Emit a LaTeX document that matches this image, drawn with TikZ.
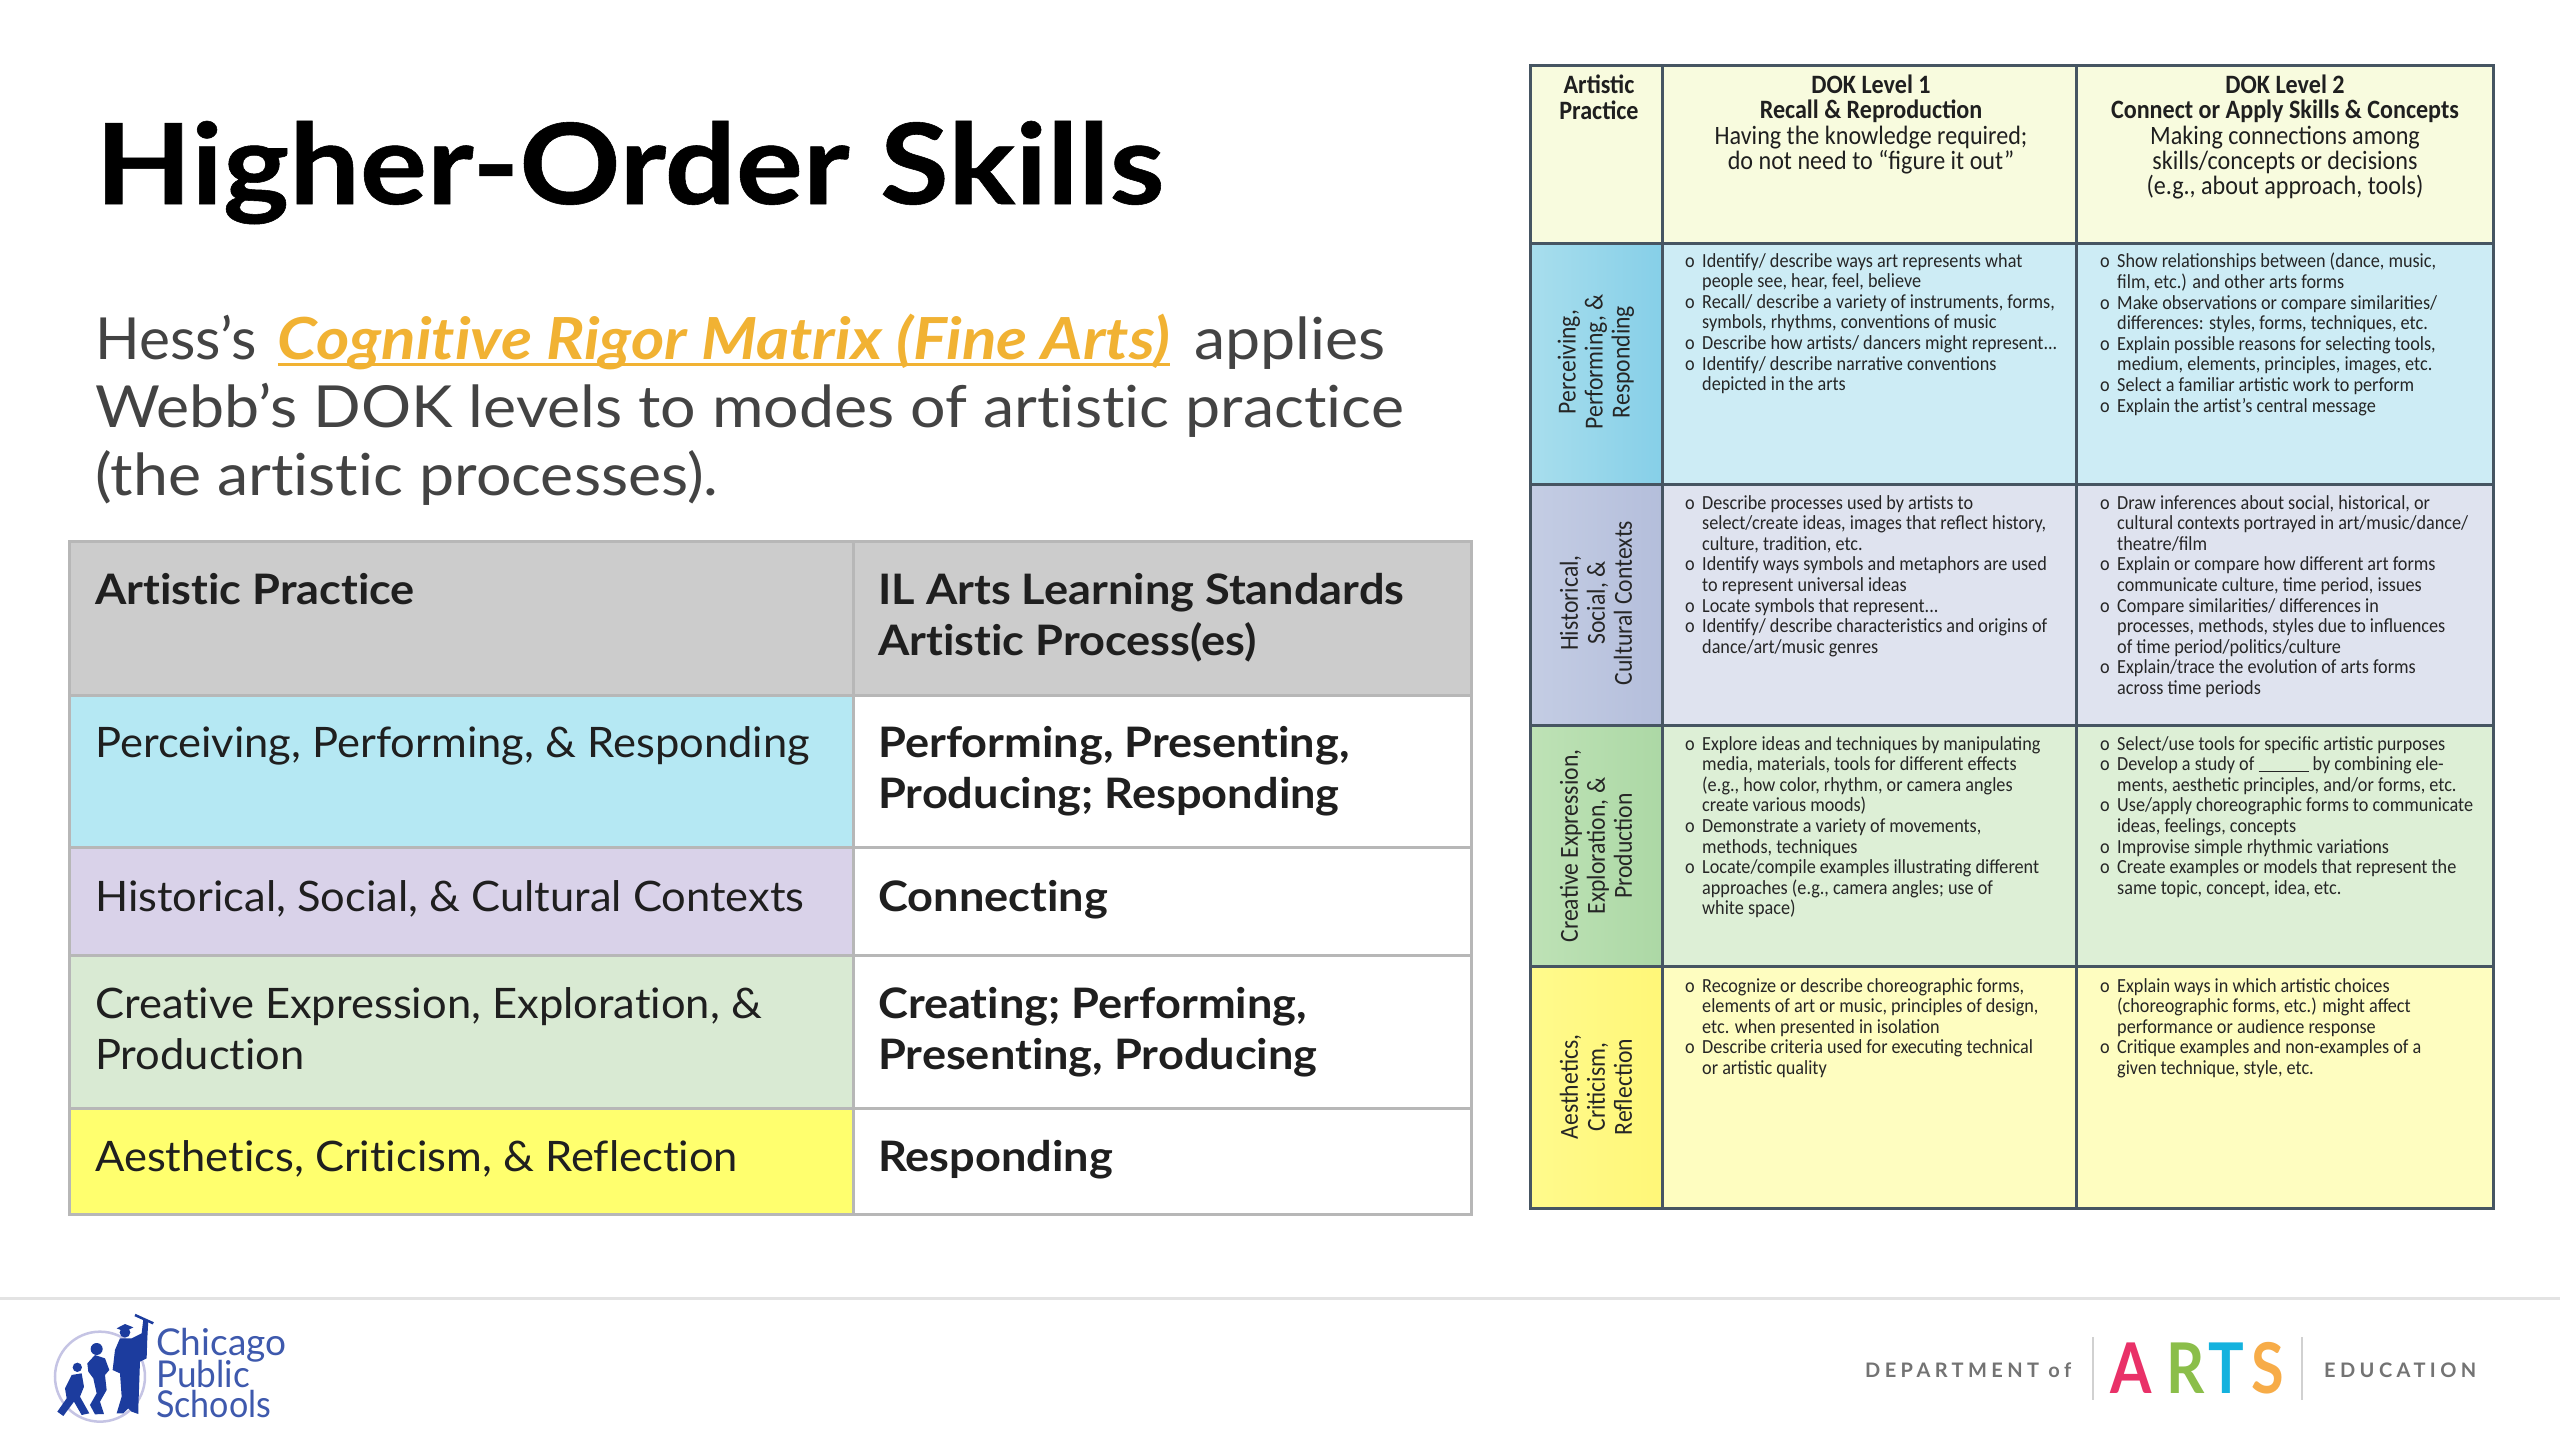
\documentclass[tikz,border=0pt]{standalone}
\usepackage{fontspec}
\setmainfont[Ligatures=NoCommon]{Lato}
\newfontfamily\titlef[Ligatures=NoCommon,FakeStretch=1.12,FakeBold=0.5]{Lato}
\newfontfamily\introf[Ligatures=NoCommon,FakeStretch=1.08]{Lato}
\newfontfamily\hessf[Ligatures=NoCommon,FakeStretch=1.01]{Lato}
\newfontfamily\linkf[Ligatures=NoCommon,FakeStretch=1.10]{Lato}
\newfontfamily\regf[Ligatures=NoCommon,FakeStretch=1.035]{Lato}
\newfontfamily\bldf[Ligatures=NoCommon,FakeStretch=1.075]{Lato}
\newfontfamily\cond[FakeStretch=0.91]{Carlito}
\newfontfamily\deptf[LetterSpace=22]{Lato}
\newfontfamily\artsf[FakeStretch=0.85]{Lato}
\definecolor{txt}{HTML}{1F1F1F}
\definecolor{body}{HTML}{434343}
\definecolor{linkc}{HTML}{F1B233}
\definecolor{gridl}{HTML}{B7B7B7}
\definecolor{gridr}{HTML}{465562}
\definecolor{cpsb}{HTML}{1C3C9E}
\definecolor{cpsl}{HTML}{C5C4E4}
\newcommand\lnk[1]{\setbox0\hbox{#1}\rlap{\copy0}\rule[-7pt]{\wd0}{3.5pt}}
\newcommand\bul{\makebox[17pt][l]{o}}
\newcommand\hng{\hspace*{17pt}}
\tikzset{
  cellL/.style={draw=gridl,line width=3pt,anchor=north west,inner sep=0pt,minimum width=#1},
  lt/.style={anchor=base west,inner sep=0pt,text=txt,font=\regf\fontsize{42}{50.6}\selectfont},
  ltb/.style={lt,font=\bldf\fontsize{42}{50.6}\selectfont\bfseries},
  intr/.style={anchor=base west,inner sep=0pt,text=body,font=\introf\fontsize{58}{68.6}\selectfont},
  cellR/.style={draw=gridr,line width=3pt,anchor=north west,inner sep=0pt,minimum width=#1},
  mx/.style={anchor=north west,inner sep=0pt,align=left,text=black!85,font=\cond\fontsize{20}{20.6}\selectfont},
  hd/.style={anchor=north,inner sep=0pt,align=center,text=black!88,font=\cond\fontsize{26.5}{25.2}\selectfont},
  rotl/.style={rotate=90,inner sep=0pt,align=center,text=black!85,font=\cond\fontsize{26}{27}\selectfont},
  artl/.style={anchor=base west,inner sep=0pt,font=\artsf\bfseries\fontsize{70}{70}\selectfont},
  dept/.style={anchor=base west,inner sep=0pt,text=black!55,font=\deptf\bfseries\fontsize{20}{20}\selectfont},
  cpst/.style={anchor=base west,inner sep=0pt,text=cpsb!85,font=\fontsize{37}{37}\selectfont},
}
\begin{document}
\begin{tikzpicture}[x=1pt,y=-1pt]
\useasboundingbox (0,0) rectangle (2560,1440);
\fill[white] (0,0) rectangle (2560,1440);
% title
\node[anchor=base west,inner sep=0pt,text=black,font=\titlef\fontsize{112}{112}\selectfont\bfseries] (title) at (95,204) {Higher-Order Skills};
\node[intr] (intro1) at (95,359) {{\hessf Hess’s}\hspace*{5pt} \textcolor{linkc}{\linkf\lnk{\bfseries\itshape Cognitive Rigor Matrix (Fine Arts)}}\hspace*{8pt} applies};
\node[intr] (intro2) at (95,427) {Webb’s DOK levels to modes of artistic practice};
\node[intr] (intro3) at (95,495) {(the artistic processes).};
% left table
\node[cellL=784pt,minimum height=154pt,fill=black!20] (h1) at (68,540) {};
\node[cellL=618pt,minimum height=154pt,fill=black!20] (h2) at (852,540) {};
\node[cellL=784pt,minimum height=152pt,fill={rgb,255:red,181;green,232;blue,243}] (a1) at (68,694) {};
\node[cellL=618pt,minimum height=152pt,fill=white] (a2) at (852,694) {};
\node[cellL=784pt,minimum height=108pt,fill={rgb,255:red,217;green,210;blue,233}] (b1) at (68,846) {};
\node[cellL=618pt,minimum height=108pt,fill=white] (b2) at (852,846) {};
\node[cellL=784pt,minimum height=153pt,fill={rgb,255:red,217;green,234;blue,211}] (c1) at (68,954) {};
\node[cellL=618pt,minimum height=153pt,fill=white] (c2) at (852,954) {};
\node[cellL=784pt,minimum height=106pt,fill={rgb,255:red,255;green,255;blue,110}] (d1) at (68,1107) {};
\node[cellL=618pt,minimum height=106pt,fill=white] (d2) at (852,1107) {};
\node[ltb] (th1) at (95,604) {Artistic Practice};
\node[ltb] (th2a) at (878,604) {IL Arts Learning Standards};
\node[ltb] (th2b) at (878,655) {Artistic Process(es)};
\node[lt] (t1) at (95,757) {Perceiving, Performing, \& Responding};
\node[ltb] (t2a) at (878,757) {Performing, Presenting,};
\node[ltb] (t2b) at (878,808) {Producing; Responding};
\node[lt] (t3) at (95,911) {Historical, Social, \& Cultural Contexts};
\node[ltb] (t4) at (878,911) {Connecting};
\node[lt] (t5a) at (95,1018) {Creative Expression, Exploration, \&};
\node[lt] (t5b) at (95,1069) {Production};
\node[ltb] (t6a) at (878,1018) {Creating; Performing,};
\node[ltb] (t6b) at (878,1069) {Presenting, Producing};
\node[lt] (t7) at (95,1171) {Aesthetics, Criticism, \& Reflection};
\node[ltb] (t8) at (878,1171) {Responding};
% right matrix
\node[cellR=132pt,minimum height=178pt,fill={rgb,255:red,248;green,251;blue,222}] (m00) at (1529,64) {};
\node[cellR=414pt,minimum height=178pt,fill={rgb,255:red,248;green,251;blue,222}] (m01) at (1661,64) {};
\node[cellR=417pt,minimum height=178pt,fill={rgb,255:red,248;green,251;blue,222}] (m02) at (2075,64) {};
\node[cellR=132pt,minimum height=241pt,left color={rgb,255:red,168;green,222;blue,237},right color={rgb,255:red,134;green,207;blue,232}] (m10) at (1529,242) {};
\node[cellR=414pt,minimum height=241pt,fill={rgb,255:red,205;green,236;blue,245}] (m11) at (1661,242) {};
\node[cellR=417pt,minimum height=241pt,fill={rgb,255:red,205;green,236;blue,245}] (m12) at (2075,242) {};
\node[cellR=132pt,minimum height=241pt,left color={rgb,255:red,196;green,205;blue,228},right color={rgb,255:red,180;green,190;blue,219}] (m20) at (1529,483) {};
\node[cellR=414pt,minimum height=241pt,fill={rgb,255:red,223;green,227;blue,239}] (m21) at (1661,483) {};
\node[cellR=417pt,minimum height=241pt,fill={rgb,255:red,223;green,227;blue,239}] (m22) at (2075,483) {};
\node[cellR=132pt,minimum height=241pt,left color={rgb,255:red,190;green,226;blue,182},right color={rgb,255:red,172;green,216;blue,165}] (m30) at (1529,724) {};
\node[cellR=414pt,minimum height=241pt,fill={rgb,255:red,221;green,239;blue,214}] (m31) at (1661,724) {};
\node[cellR=417pt,minimum height=241pt,fill={rgb,255:red,221;green,239;blue,214}] (m32) at (2075,724) {};
\node[cellR=132pt,minimum height=242pt,left color={rgb,255:red,255;green,250;blue,140},right color={rgb,255:red,255;green,247;blue,120}] (m40) at (1529,965) {};
\node[cellR=414pt,minimum height=242pt,fill={rgb,255:red,254;green,253;blue,192}] (m41) at (1661,965) {};
\node[cellR=417pt,minimum height=242pt,fill={rgb,255:red,254;green,253;blue,192}] (m42) at (2075,965) {};
% headers
\node[hd] (hp) at (1599,75) {\bfseries Artistic\\\bfseries Practice};
\node[hd] (hl1) at (1871,75) {\bfseries DOK Level 1\\\bfseries Recall \& Reproduction\\Having the knowledge required;\\do not need to “figure it out”};
\node[hd] (hl2) at (2285,75) {\bfseries DOK Level 2\\\bfseries Connect or Apply Skills \& Concepts\\Making connections among\\skills/concepts or decisions\\(e.g., about approach, tools)};
% row labels
\node[rotl] (r1) at (1596,362) {Perceiving,\\Performing, \&\\Responding};
\node[rotl] (r2) at (1596,603) {Historical,\\Social, \&\\Cultural Contexts};
\node[rotl] (r3) at (1596,846) {Creative Expression,\\Exploration, \&\\Production};
\node[rotl] (r4) at (1596,1087) {Aesthetics,\\Criticism,\\Reflection};
% cell texts
\node[mx] (c11) at (1685,253) {\bul Identify/ describe ways art represents what\\\hng people see, hear, feel, believe\\\bul Recall/ describe a variety of instruments, forms,\\\hng symbols, rhythms, conventions of music\\\bul Describe how artists/ dancers might represent...\\\bul Identify/ describe narrative conventions\\\hng depicted in the arts};
\node[mx] (c12) at (2100,253) {\bul Show relationships between (dance, music,\\\hng film, etc.) and other arts forms\\\bul Make observations or compare similarities/\\\hng differences: styles, forms, techniques, etc.\\\bul Explain possible reasons for selecting tools,\\\hng medium, elements, principles, images, etc.\\\bul Select a familiar artistic work to perform\\\bul Explain the artist’s central message};
\node[mx] (c21) at (1685,495) {\bul Describe processes used by artists to\\\hng select/create ideas, images that reflect history,\\\hng culture, tradition, etc.\\\bul Identify ways symbols and metaphors are used\\\hng to represent universal ideas\\\bul Locate symbols that represent...\\\bul Identify/ describe characteristics and origins of\\\hng dance/art/music genres};
\node[mx] (c22) at (2100,495) {\bul Draw inferences about social, historical, or\\\hng cultural contexts portrayed in art/music/dance/\\\hng theatre/film\\\bul Explain or compare how different art forms\\\hng communicate culture, time period, issues\\\bul Compare similarities/ differences in\\\hng processes, methods, styles due to influences\\\hng of time period/politics/culture\\\bul Explain/trace the evolution of arts forms\\\hng across time periods};
\node[mx] (c31) at (1685,736) {\bul Explore ideas and techniques by manipulating\\\hng media, materials, tools for different effects\\\hng (e.g., how color, rhythm, or camera angles\\\hng create various moods)\\\bul Demonstrate a variety of movements,\\\hng methods, techniques\\\bul Locate/compile examples illustrating different\\\hng approaches (e.g., camera angles; use of\\\hng white space)};
\node[mx] (c32) at (2100,736) {\bul Select/use tools for specific artistic purposes\\\bul Develop a study of \rule[-1pt]{50pt}{1pt} by combining ele-\\\hng ments, aesthetic principles, and/or forms, etc.\\\bul Use/apply choreographic forms to communicate\\\hng ideas, feelings, concepts\\\bul Improvise simple rhythmic variations\\\bul Create examples or models that represent the\\\hng same topic, concept, idea, etc.};
\node[mx] (c41) at (1685,978) {\bul Recognize or describe choreographic forms,\\\hng elements of art or music, principles of design,\\\hng etc. when presented in isolation\\\bul Describe criteria used for executing technical\\\hng or artistic quality};
\node[mx] (c42) at (2100,978) {\bul Explain ways in which artistic choices\\\hng (choreographic forms, etc.) might affect\\\hng performance or audience response\\\bul Critique examples and non-examples of a\\\hng given technique, style, etc.};
% footer
\draw[black!11,line width=3pt] (0,1298) -- (2560,1298);
% CPS logo
\begin{scope}[shift={(0,1280)},x=0.3333pt,y=-0.3333pt]
\draw[cpsl,line width=2.5pt] (300,290) circle[radius=135];
\fill[cpsb] (232,262) circle[radius=14];
\fill[cpsb] (215,285) -- (245,280) -- (252,320) -- (240,350) -- (268,400) -- (245,405) -- (222,365) -- (190,408) -- (172,395) -- (200,355) -- (195,325) -- cycle;
\fill[cpsb] (290,207) circle[radius=18];
\fill[cpsb] (262,250) -- (285,225) -- (315,235) -- (328,270) -- (315,285) -- (320,330) -- (300,365) -- (312,402) -- (285,403) -- (270,375) -- (290,340) -- (280,295) -- (265,275) -- cycle;
\fill[cpsb] (375,157) circle[radius=16];
\fill[cpsb] (350,145) -- (375,132) -- (400,142) -- (375,155) -- cycle;
\fill[cpsb] (360,175) -- (395,175) -- (425,160) -- (430,118) -- (445,122) -- (442,175) -- (440,235) -- (420,245) -- (415,385) -- (415,402) -- (395,395) -- (385,385) -- (370,400) -- (350,400) -- (365,350) -- (360,280) -- (338,270) -- (345,210) -- cycle;
\draw[cpsb,line width=2.5pt] (405,105) -- (460,130);
\end{scope}
\node[cpst] (cps1) at (156,1355) {Chicago};
\node[cpst] (cps2) at (156,1387) {\scalebox{0.95}[1]{Public}};
\node[cpst] (cps3) at (156,1417) {\scalebox{0.92}[1]{Schools}};
% dept logo
\node[dept] (dep) at (1865,1377) {DEPARTMENT of};
\node[dept] (edu) at (2324,1377) {EDUCATION};
\draw[black!18,line width=1.5pt] (2093,1337) -- (2093,1400);
\draw[black!18,line width=1.5pt] (2302,1337) -- (2302,1400);
\node[artl,text={rgb,255:red,233;green,49;blue,104}] (aA) at (2110,1393) {A};
\node[artl,text={rgb,255:red,139;green,190;blue,74}] (aR) at (2166,1393) {R};
\node[artl,text={rgb,255:red,20;green,178;blue,222}] (aT) at (2208,1393) {T};
\node[artl,text={rgb,255:red,247;green,172;blue,72}] (aS) at (2251,1393) {S};
\end{tikzpicture}
\end{document}
